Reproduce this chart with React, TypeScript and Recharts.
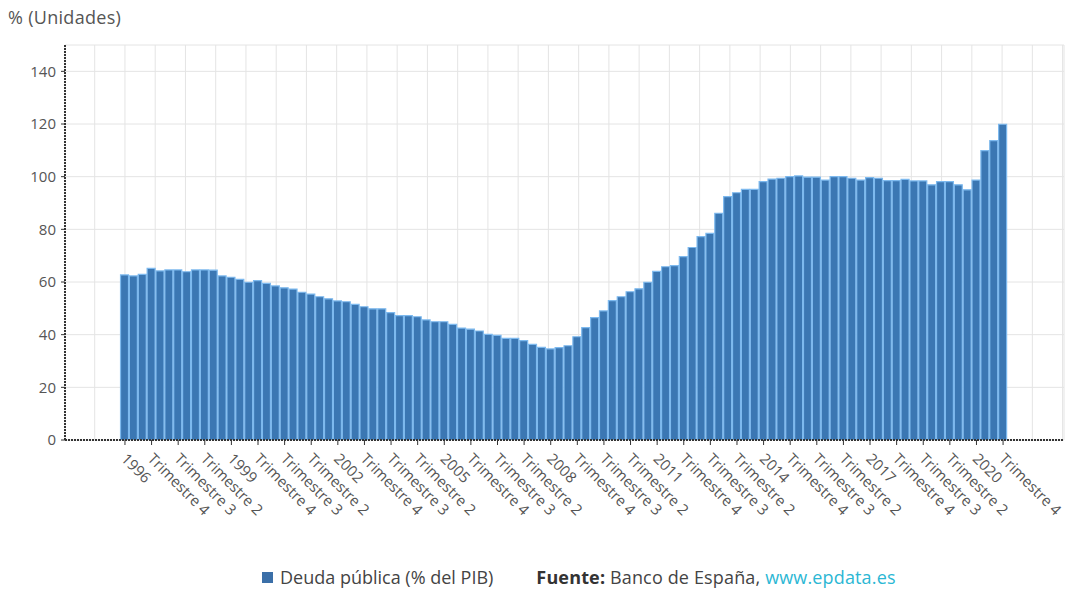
import React from "react";
import { BarChart, Bar, XAxis, YAxis, CartesianGrid } from "recharts";

const years = [
  1996, 1997, 1998, 1999, 2000, 2001, 2002, 2003, 2004, 2005, 2006, 2007, 2008,
  2009, 2010, 2011, 2012, 2013, 2014, 2015, 2016, 2017, 2018, 2019, 2020,
];
const quarterNames = ["Trimestre 1", "Trimestre 2", "Trimestre 3", "Trimestre 4"];

const debtValues = [
  62.7, 62.3, 62.9, 65.2, 64.2, 64.6, 64.6, 63.9, 64.6, 64.6, 64.5, 62.3,
  61.8, 61.0, 59.9, 60.5, 59.5, 58.5, 57.8, 57.3, 56.1, 55.4, 54.4, 53.6,
  52.8, 52.5, 51.5, 50.6, 49.8, 49.8, 48.4, 47.2, 47.2, 46.8, 45.6, 44.9,
  44.9, 43.9, 42.5, 42.1, 41.4, 40.1, 39.7, 38.6, 38.6, 37.7, 36.3, 35.2,
  34.6, 35.1, 35.8, 39.2, 42.7, 46.5, 49.0, 52.9, 54.4, 56.3, 57.4, 59.9,
  64.0, 65.8, 66.2, 69.6, 73.1, 77.2, 78.5, 86.1, 92.4, 93.9, 95.2, 95.2,
  98.1, 99.1, 99.4, 100.0, 100.3, 99.8, 99.8, 98.7, 100.0, 100.0, 99.4, 98.7,
  99.6, 99.4, 98.5, 98.5, 99.0, 98.4, 98.4, 96.9, 98.1, 98.1, 96.9, 95.0,
  98.7, 109.9, 113.7, 119.9,
];

const tickLabels = [
  "1996", "Trimestre 4", "Trimestre 3", "Trimestre 2",
  "1999", "Trimestre 4", "Trimestre 3", "Trimestre 2",
  "2002", "Trimestre 4", "Trimestre 3", "Trimestre 2",
  "2005", "Trimestre 4", "Trimestre 3", "Trimestre 2",
  "2008", "Trimestre 4", "Trimestre 3", "Trimestre 2",
  "2011", "Trimestre 4", "Trimestre 3", "Trimestre 2",
  "2014", "Trimestre 4", "Trimestre 3", "Trimestre 2",
  "2017", "Trimestre 4", "Trimestre 3", "Trimestre 2",
  "2020", "Trimestre 4",
];
const tickStep = 3;
const yTicks = [0, 20, 40, 60, 80, 100, 120, 140];

const categories: string[] = [];
years.forEach((y) => quarterNames.forEach((q) => categories.push(`${y} ${q}`)));

const data = categories.map((c, i) => ({ idx: i, category: c, value: debtValues[i] }));
const xTicks = tickLabels.map((_, i) => i * tickStep);
const labelByIdx: Record<number, string> = {};
xTicks.forEach((t, i) => (labelByIdx[t] = tickLabels[i]));

const X_DOMAIN: [number, number] = [-6.76, 105.87];
const GRID_STEP = 3.41;
const gridTicks: number[] = [];
for (let k = -1; k * GRID_STEP <= X_DOMAIN[1]; k++) gridTicks.push(+(k * GRID_STEP).toFixed(3));

const FONT = "'Open Sans', 'Noto Sans', sans-serif";
const TEXT = "#555";

const XTick = (props: any) => {
  const { x, payload } = props;
  const label = labelByIdx[Math.round(payload.value)] ?? "";
  return (
    <g transform={`translate(${x - 1},456) rotate(45)`}>
      <text x={0} y={0} dy="0.35em" textAnchor="start" fill={TEXT} fontSize={15} fontFamily={FONT}>
        {label}
      </text>
    </g>
  );
};

export default function App() {
  return (
    <div style={{ position: "absolute", left: 0, top: 0, width: 1066, height: 590, background: "#fff", fontFamily: FONT }}>
      <div style={{ position: "absolute", left: 8, top: 4, fontSize: 18, color: TEXT, lineHeight: "26px", letterSpacing: 0.3 }}>% (Unidades)</div>
      <BarChart
        width={1066}
        height={590}
        data={data}
        margin={{ top: 45, right: 2, left: 0, bottom: 0 }}
        barCategoryGap={0}
      >
        <CartesianGrid xAxisId="grid" stroke="#e4e4e4" strokeWidth={1} />
        <XAxis
          xAxisId="grid"
          type="number"
          dataKey="idx"
          domain={X_DOMAIN}
          allowDataOverflow
          ticks={gridTicks}
          interval={0}
          hide
        />
        <XAxis
          type="number"
          dataKey="idx"
          domain={X_DOMAIN}
          allowDataOverflow
          ticks={xTicks}
          interval={0}
          height={150}
          tick={<XTick />}
          tickSize={5}
          tickLine={{ stroke: "#333" }}
          axisLine={{ stroke: "#333", strokeWidth: 2, strokeDasharray: "2 1" }}
        />
        <YAxis
          domain={[0, 150]}
          ticks={yTicks}
          allowDataOverflow
          width={65}
          tickSize={4}
          tickMargin={5}
          tick={{ fill: TEXT, fontSize: 15, fontFamily: FONT }}
          tickLine={{ stroke: "#333" }}
          axisLine={{ stroke: "#333", strokeWidth: 2, strokeDasharray: "2 1" }}
        />
        <Bar
          dataKey="value"
          barSize={9}
          fill="#3b77b3"
          stroke="#7db9ee"
          strokeWidth={1.2}
          isAnimationActive={false}
        />
      </BarChart>
      <div
        style={{
          position: "absolute",
          left: 262,
          top: 564,
          fontSize: 18,
          lineHeight: "26px",
          color: "#444",
          whiteSpace: "nowrap",
          display: "flex",
          alignItems: "center",
        }}
      >
        <span style={{ display: "inline-block", width: 11, height: 11, background: "#3b6fa8", marginRight: 7 }} />
        <span>Deuda pública (% del PIB)</span>
        <span style={{ marginLeft: 43, letterSpacing: 0.15 }}>
          <b style={{ color: "#333" }}>Fuente:</b> Banco de España,{" "}
          <span style={{ color: "#2bb7d4" }}>www.epdata.es</span>
        </span>
      </div>
    </div>
  );
}
